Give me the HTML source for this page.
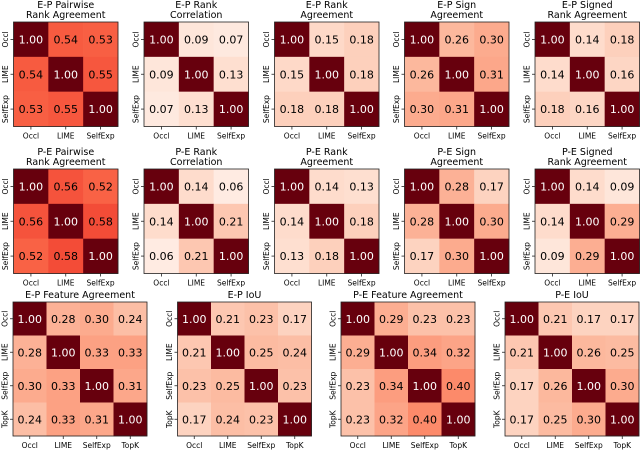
<!DOCTYPE html>
<html><head><meta charset="utf-8">
<style>
html,body{margin:0;padding:0;background:#fff;}
svg{display:block;font-family:"DejaVu Sans","Liberation Sans",sans-serif;}
</style></head>
<body>
<svg id="fig" width="640" height="451" viewBox="0 0 640 451"></svg>
<script>
// Data (off-diagonal values, upper triangle, row-major)
const labels3 = ["Occl","LIME","SelfExp"];
const labels4 = ["Occl","LIME","SelfExp","TopK"];
const titles = [
  ["E-P Pairwise","Rank Agreement"],["E-P Rank","Correlation"],["E-P Rank","Agreement"],["E-P Sign","Agreement"],["E-P Signed","Rank Agreement"],
  ["P-E Pairwise","Rank Agreement"],["P-E Rank","Correlation"],["P-E Rank","Agreement"],["P-E Sign","Agreement"],["P-E Signed","Rank Agreement"],
  ["E-P Feature Agreement"],["E-P IoU"],["P-E Feature Agreement"],["P-E IoU"]
];
const epPairwise = [0.54,0.53,0.55];
const epRankCorr = [0.09,0.07,0.13];
const epRankAgree = [0.15,0.18,0.18];
const epSign = [0.26,0.30,0.31];
const epSignedRank = [0.14,0.18,0.16];
const pePairwise = [0.56,0.52,0.58];
const peRankCorr = [0.14,0.06,0.21];
const peRankAgree = [0.14,0.13,0.18];
const peSign = [0.28,0.17,0.30];
const peSignedRank = [0.14,0.09,0.29];
const epFeature = [0.28,0.30,0.24,0.33,0.33,0.31];
const epIoU = [0.21,0.23,0.17,0.25,0.24,0.23];
const peFeature = [0.29,0.23,0.23,0.34,0.32,0.40];
const peIoU = [0.21,0.17,0.17,0.26,0.25,0.30];
const allData = [epPairwise,epRankCorr,epRankAgree,epSign,epSignedRank,pePairwise,peRankCorr,peRankAgree,peSign,peSignedRank,epFeature,epIoU,peFeature,peIoU];

const reds = ["#fff5f0","#fee0d2","#fcbba1","#fc9272","#fb6a4a","#ef3b2c","#cb181d","#a50f15","#67000d"];
function hex(c){return [1,3,5].map(i=>parseInt(c.substr(i,2),16));}
function color(v){
  v=Math.max(0,Math.min(1,v));const p=v*8;const i=Math.min(7,Math.floor(p));const t=p-i;
  const a=hex(reds[i]),b=hex(reds[i+1]);
  return "rgb("+a.map((x,k)=>Math.round(x+(b[k]-x)*t)).join(",")+")";
}
function fullMatrix(up,n){
  const m=[];let k=0;for(let i=0;i<n;i++){m.push(new Array(n).fill(1));}
  for(let i=0;i<n;i++)for(let j=i+1;j<n;j++){m[i][j]=up[k];m[j][i]=up[k];k++;}
  return m;
}
const NS="http://www.w3.org/2000/svg";
const svg=document.getElementById("fig");
function el(tag,attrs,parent){const e=document.createElementNS(NS,tag);for(const a in attrs)e.setAttribute(a,attrs[a]);(parent||svg).appendChild(e);return e;}

const layouts=[];
const x3=[13.5,144,274.5,404.5,535], w3=104.5;
for(let i=0;i<5;i++)layouts.push({x:x3[i],y:22,w:w3,n:3});
for(let i=0;i<5;i++)layouts.push({x:x3[i],y:169,w:w3,n:3});
const x4=[13,177.5,341,505], w4=134;
for(let i=0;i<4;i++)layouts.push({x:x4[i],y:302,w:w4,n:4});

layouts.forEach((L,idx)=>{
  const n=L.n, labs=n===3?labels3:labels4;
  const m=fullMatrix(allData[idx],n);
  const g=el("g",{});
  
  
  const cs=L.w/n;
  const xs=j=>L.x+j*cs, ys=i=>L.y+i*cs;
  for(let i=0;i<n;i++)for(let j=0;j<n;j++){
    const v=m[i][j];
    const r=el("rect",{x:xs(j),y:ys(i),width:cs+0.3,height:cs+0.3,fill:color(v)},g);
    
    
    const t=el("text",{x:xs(j)+cs/2,y:ys(i)+cs/2+4,"text-anchor":"middle","font-size":"11",fill:v>0.5&&v>=0.99?"#fff":"#000"},g);
    t.textContent=v.toFixed(2);
    
    
  }
  const fr=el("rect",{x:L.x,y:L.y,width:L.w,height:L.w,fill:"none",stroke:"#222","stroke-width":"0.8"},g);
  
  
  for(let k=0;k<n;k++){
    const cx=xs(k)+cs/2, cy=ys(k)+cs/2;
    el("line",{x1:cx,y1:L.y+L.w,x2:cx,y2:L.y+L.w+3,stroke:"#222","stroke-width":"0.8"},g);
    const tx=el("text",{x:cx,y:L.y+L.w+12,"text-anchor":"middle","font-size":"7.5",fill:"#000"},g);
    tx.textContent=labs[k];
    
    
    el("line",{x1:L.x-3,y1:cy,x2:L.x,y2:cy,stroke:"#222","stroke-width":"0.8"},g);
    const ty=el("text",{x:0,y:0,"text-anchor":"middle","font-size":"7.5",fill:"#000",transform:"translate("+(L.x-5.5)+","+cy+") rotate(-90)"},g);
    ty.textContent=labs[k];
    
    
  }
  const tl=titles[idx];
  tl.forEach((line,li)=>{
    const yy=L.y-4-(tl.length-1-li)*10;
    const tt=el("text",{x:L.x+L.w/2,y:yy,"text-anchor":"middle","font-size":"9.5",fill:"#000"},g);
    tt.textContent=line;
    
    
  });
});
</script>
</body></html>
